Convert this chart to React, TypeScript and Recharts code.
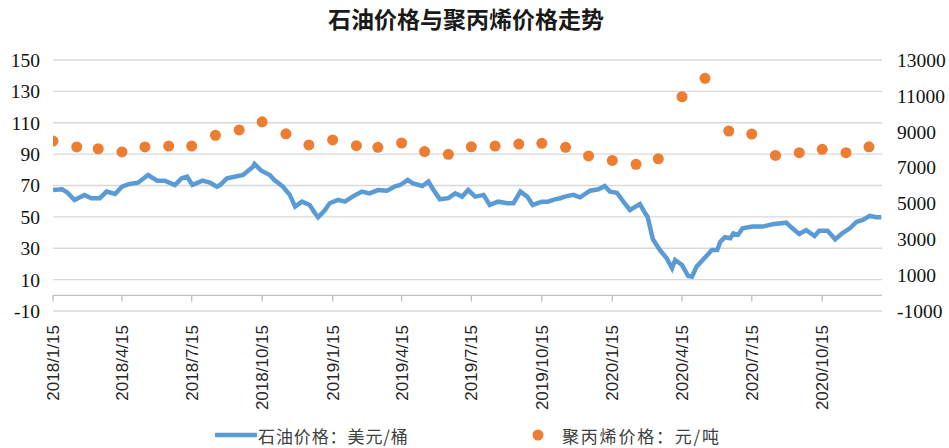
import React from "react";
import { ComposedChart, Line, XAxis, YAxis, CartesianGrid, ReferenceLine } from "recharts";

const oilDates = [
  "2018-01-15","2018-01-27","2018-02-03","2018-02-12","2018-02-25","2018-03-06","2018-03-17","2018-03-26",
  "2018-04-06","2018-04-15","2018-04-25","2018-05-06","2018-05-19","2018-05-31","2018-06-10","2018-06-23",
  "2018-07-02","2018-07-09","2018-07-16","2018-07-29","2018-08-08","2018-08-17","2018-08-21","2018-08-30",
  "2018-09-09","2018-09-20","2018-10-03","2018-10-05","2018-10-14","2018-10-25","2018-10-31","2018-11-11",
  "2018-11-20","2018-11-27","2018-12-06","2018-12-16","2018-12-23","2018-12-27","2019-01-05","2019-01-11",
  "2019-01-22","2019-01-31","2019-02-10","2019-02-22","2019-03-04","2019-03-15","2019-03-27","2019-04-06",
  "2019-04-13","2019-04-23","2019-04-30","2019-05-12","2019-05-20","2019-05-26","2019-06-04","2019-06-15",
  "2019-06-24","2019-07-03","2019-07-11","2019-07-20","2019-07-31","2019-08-08","2019-08-19","2019-08-31",
  "2019-09-08","2019-09-17","2019-09-26","2019-10-03","2019-10-15","2019-10-23","2019-11-01","2019-11-08",
  "2019-11-14","2019-11-25","2019-12-04","2019-12-17","2019-12-28","2020-01-05","2020-01-12","2020-01-21",
  "2020-01-31","2020-02-07","2020-02-20","2020-02-27","2020-03-01","2020-03-08","2020-03-17","2020-03-26",
  "2020-04-02","2020-04-06","2020-04-15","2020-04-23","2020-04-28","2020-05-04","2020-05-12","2020-05-24",
  "2020-05-31","2020-06-04","2020-06-10","2020-06-17","2020-06-21","2020-06-27","2020-07-03","2020-07-16",
  "2020-07-29","2020-08-11","2020-08-29","2020-09-06","2020-09-15","2020-09-24","2020-10-05","2020-10-11",
  "2020-10-22","2020-11-01","2020-11-10","2020-11-20","2020-11-29","2020-12-07","2020-12-16","2020-12-25",
  "2020-12-31",
];
const oilPrices = [
  67.1,67.6,65.4,60.8,64.0,61.9,61.9,66.1,
  64.6,69.3,71.0,71.8,76.7,73.1,73.1,70.3,
  74.6,75.6,70.3,73.1,71.8,69.3,70.3,74.6,
  75.6,76.7,82.0,83.7,79.4,76.7,73.5,69.3,
  64.0,56.5,59.7,57.6,52.3,49.7,54.4,58.7,
  60.8,59.7,62.9,66.1,65.0,67.1,66.7,69.3,
  70.3,73.5,71.4,69.7,72.5,67.6,61.2,61.9,
  65.0,62.9,67.1,62.9,64.0,57.6,59.7,58.7,
  58.7,66.1,62.9,57.6,59.7,59.7,61.2,61.9,
  62.9,64.0,62.5,66.7,67.6,69.7,66.1,65.4,
  58.7,54.4,58.2,52.3,50.1,35.7,28.9,23.6,
  17.2,22.5,19.3,12.3,11.9,18.3,22.5,28.9,
  28.9,34.2,37.0,36.4,39.5,38.5,42.7,43.8,
  43.8,45.3,46.3,42.7,39.1,41.6,37.8,41.2,
  41.2,35.7,39.5,42.7,46.9,48.0,50.6,49.8,
  49.8,
];

const ppDates = [
  "2018-01-15","2018-02-15","2018-03-15","2018-04-15","2018-05-15","2018-06-15",
  "2018-07-15","2018-08-15","2018-09-15","2018-10-15","2018-11-15","2018-12-15",
  "2019-01-15","2019-02-15","2019-03-15","2019-04-15","2019-05-15","2019-06-15",
  "2019-07-15","2019-08-15","2019-09-15","2019-10-15","2019-11-15","2019-12-15",
  "2020-01-15","2020-02-15","2020-03-15","2020-04-15","2020-05-15","2020-06-15",
  "2020-07-15","2020-08-15","2020-09-15","2020-10-15","2020-11-15","2020-12-15",
];
const ppPrices = [
  8480,8150,8050,7870,8150,8200,8200,8800,9100,9550,8880,8260,
  8540,8220,8130,8370,7890,7740,8160,8200,8310,8350,8130,7650,
  7400,7180,7490,10950,11980,9040,8870,7680,7830,8020,7830,8160,
];

const tickDates = [
  "2018-01-15","2018-04-15","2018-07-15","2018-10-15","2019-01-15","2019-04-15",
  "2019-07-15","2019-10-15","2020-01-15","2020-04-15","2020-07-15","2020-10-15",
];
const tickLabels = [
  "2018/1/15","2018/4/15","2018/7/15","2018/10/15","2019/1/15","2019/4/15",
  "2019/7/15","2019/10/15","2020/1/15","2020/4/15","2020/7/15","2020/10/15",
];
const leftTicks = [-10, 10, 30, 50, 70, 90, 110, 130, 150];
const rightTicks = [-1000, 1000, 3000, 5000, 7000, 9000, 11000, 13000];
const domainStart = "2018-01-15";
const domainEnd = "2021-01-01";

const title = "石油价格与聚丙烯价格走势";
const oilName = "石油价格：美元/桶";
const ppName = "聚丙烯价格：元/吨";

const dayNum = (s: string) => {
  const [y, m, d] = s.split("-").map(Number);
  return Date.UTC(y, m - 1, d) / 86400000;
};

const oilData = oilDates.map((d, i) => ({ t: dayNum(d), oil: oilPrices[i] }));
const ppData = ppDates.map((d, i) => ({ t: dayNum(d), pp: ppPrices[i] }));
const tickNums = tickDates.map(dayNum);
const labelMap: Record<number, string> = {};
tickNums.forEach((n, i) => (labelMap[n] = tickLabels[i]));

const BLUE = "#5B9BD5";
const ORANGE = "#ED7D31";
const GRID = "#D9D9D9";
const SERIF = "'Liberation Serif', 'Times New Roman', 'Noto Sans CJK SC', serif";
const CJK = "'Noto Sans CJK SC', 'Liberation Serif', serif";

const XTick = (props: any) => {
  const { x, y, payload } = props;
  return (
    <text
      x={x}
      y={y}
      transform={`rotate(-90, ${x}, ${y})`}
      textAnchor="end"
      dy="0.35em"
      fontSize={17}
      fontFamily="'Liberation Sans', Arial, sans-serif"
      fill="#262626"
    >
      {labelMap[payload.value]}
    </text>
  );
};

const legendText: React.CSSProperties = {
  position: "absolute",
  top: 423,
  height: 24,
  display: "flex",
  alignItems: "center",
  fontFamily: CJK,
  fontSize: 17,
  color: "#404040",
  whiteSpace: "nowrap",
};

export default function App() {
  return (
    <div style={{ position: "absolute", left: 0, top: 0, width: 949, height: 448, background: "#fff", overflow: "hidden" }}>
      <div
        style={{
          position: "absolute",
          left: 0,
          width: 932,
          top: 3,
          textAlign: "center",
          fontFamily: CJK,
          fontWeight: 700,
          fontSize: 23,
          color: "#1a1a1a",
          lineHeight: "30px",
        }}
      >
        {title}
      </div>
      <ComposedChart
        width={949}
        height={448}
        margin={{ top: 60, right: 0, bottom: 0, left: 0 }}
      >
        <CartesianGrid vertical={false} stroke={GRID} strokeWidth={1.3} yAxisId="left" />
        <XAxis
          dataKey="t"
          type="number"
          domain={[dayNum(domainStart), dayNum(domainEnd)]}
          ticks={tickNums}
          allowDataOverflow
          axisLine={false}
          tickLine={false}
          tickSize={0}
          tickMargin={14}
          height={137}
          tick={<XTick />}
          interval={0}
        />
        <YAxis
          yAxisId="left"
          orientation="left"
          domain={[-10, 150]}
          ticks={leftTicks}
          width={53}
          axisLine={false}
          tickLine={false}
          tickMargin={7}
          interval={0}
          tick={{ fontSize: 19.5, fontFamily: SERIF, fill: "#111" }}
        />
        <YAxis
          yAxisId="right"
          orientation="right"
          domain={[-1000, 13000]}
          ticks={rightTicks}
          width={67}
          axisLine={false}
          tickLine={false}
          tickMargin={9}
          interval={0}
          tick={{ fontSize: 19.5, fontFamily: SERIF, fill: "#111" }}
        />
        <ReferenceLine yAxisId="left" y={0} stroke="#BFBFBF" strokeWidth={1.3} />
        {tickNums.map((t) => (
          <ReferenceLine
            key={t}
            yAxisId="left"
            segment={[{ x: t, y: 0 }, { x: t, y: -4 }]}
            stroke="#BFBFBF"
            strokeWidth={1.3}
          />
        ))}
        <Line
          yAxisId="left"
          data={oilData}
          dataKey="oil"
          type="linear"
          stroke={BLUE}
          strokeWidth={4.5}
          dot={false}
          isAnimationActive={false}
        />
        <Line
          yAxisId="right"
          data={ppData}
          dataKey="pp"
          stroke="none"
          dot={{ r: 5.5, fill: ORANGE, stroke: "none" }}
          activeDot={false}
          isAnimationActive={false}
        />
      </ComposedChart>
      <div style={{ ...legendText, left: 215 }}>
        <svg width={42} height={10} style={{ marginRight: 1 }}>
          <line x1={1} y1={5} x2={41} y2={5} stroke={BLUE} strokeWidth={4.5} strokeLinecap="round" />
        </svg>
        <span style={{ letterSpacing: 0.9 }}>{oilName}</span>
      </div>
      <div style={{ ...legendText, left: 532 }}>
        <svg width={12} height={12} style={{ marginRight: 18 }}>
          <circle cx={6} cy={6} r={5.5} fill={ORANGE} />
        </svg>
        <span style={{ letterSpacing: 1.8 }}>{ppName}</span>
      </div>
    </div>
  );
}
